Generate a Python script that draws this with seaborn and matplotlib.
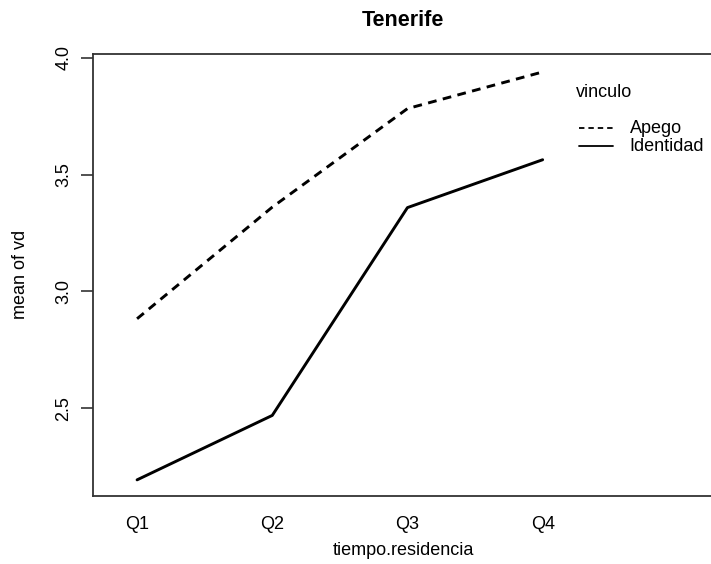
import matplotlib
matplotlib.use("Agg")
import matplotlib.pyplot as plt
import seaborn as sns
import pandas as pd

# interaction means
tiempo = ["Q1", "Q2", "Q3", "Q4"]
apego = [2.883, 3.361, 3.783, 3.940]
identidad = [2.193, 2.469, 3.359, 3.564]

df = pd.DataFrame({
    "tiempo.residencia": tiempo * 2,
    "vd": apego + identidad,
    "vinculo": ["Apego"] * 4 + ["Identidad"] * 4,
})
df["x"] = df["tiempo.residencia"].map({t: i for i, t in enumerate(tiempo)})

sns.set_style("white")
plt.rcParams["font.family"] = ["Liberation Sans", "DejaVu Sans"]
for key in ["text.color", "axes.labelcolor", "xtick.color", "ytick.color"]:
    plt.rcParams[key] = "black"

fig = plt.figure(figsize=(7.11, 5.64), dpi=100)
ax = fig.add_axes([93 / 711, 1 - 495.5 / 564, 620 / 711, (495.5 - 53.5) / 564])

sns.lineplot(data=df, x="x", y="vd", style="vinculo", color="black",
             dashes={"Apego": (3, 2.2), "Identidad": ""}, linewidth=2.1,
             legend=False, ax=ax)

ax.set_xlim(-0.326, 4.26)
ax.set_ylim(2.126, 4.019)
ax.set_xticks(range(len(tiempo)))
ax.set_xticklabels(tiempo, fontsize=13)
ax.tick_params(axis="x", length=0, pad=14.5)
ax.set_yticks([2.5, 3.0, 3.5, 4.0])
ax.set_yticklabels(["2.5", "3.0", "3.5", "4.0"], rotation=90, va="center", fontsize=13)
ax.tick_params(axis="y", length=9, width=1.2, color="#333333", left=True, pad=6)

for side in ["left", "top", "bottom"]:
    ax.spines[side].set_color("#333333")
    ax.spines[side].set_linewidth(1.3)
ax.spines["right"].set_visible(False)

ax.set_xlabel("tiempo.residencia", fontsize=13, labelpad=7)
ax.set_ylabel("mean of vd", fontsize=13, labelpad=19)
ax.set_title("Tenerife", fontsize=15.5, fontweight="bold", pad=20)

# R-style legend block on the right side of the panel
ax.text(3.244, 3.853, "vinculo", fontsize=13, va="center", ha="left")
ax.plot([3.27, 3.52], [3.699, 3.699], color="black", lw=1.3, dashes=(3, 2.2))
ax.plot([3.27, 3.52], [3.622, 3.622], color="black", lw=1.3)
ax.text(3.644, 3.699, "Apego", fontsize=13, va="center", ha="left")
ax.text(3.644, 3.622, "Identidad", fontsize=13, va="center", ha="left")

fig.savefig("out.png", dpi=100)
